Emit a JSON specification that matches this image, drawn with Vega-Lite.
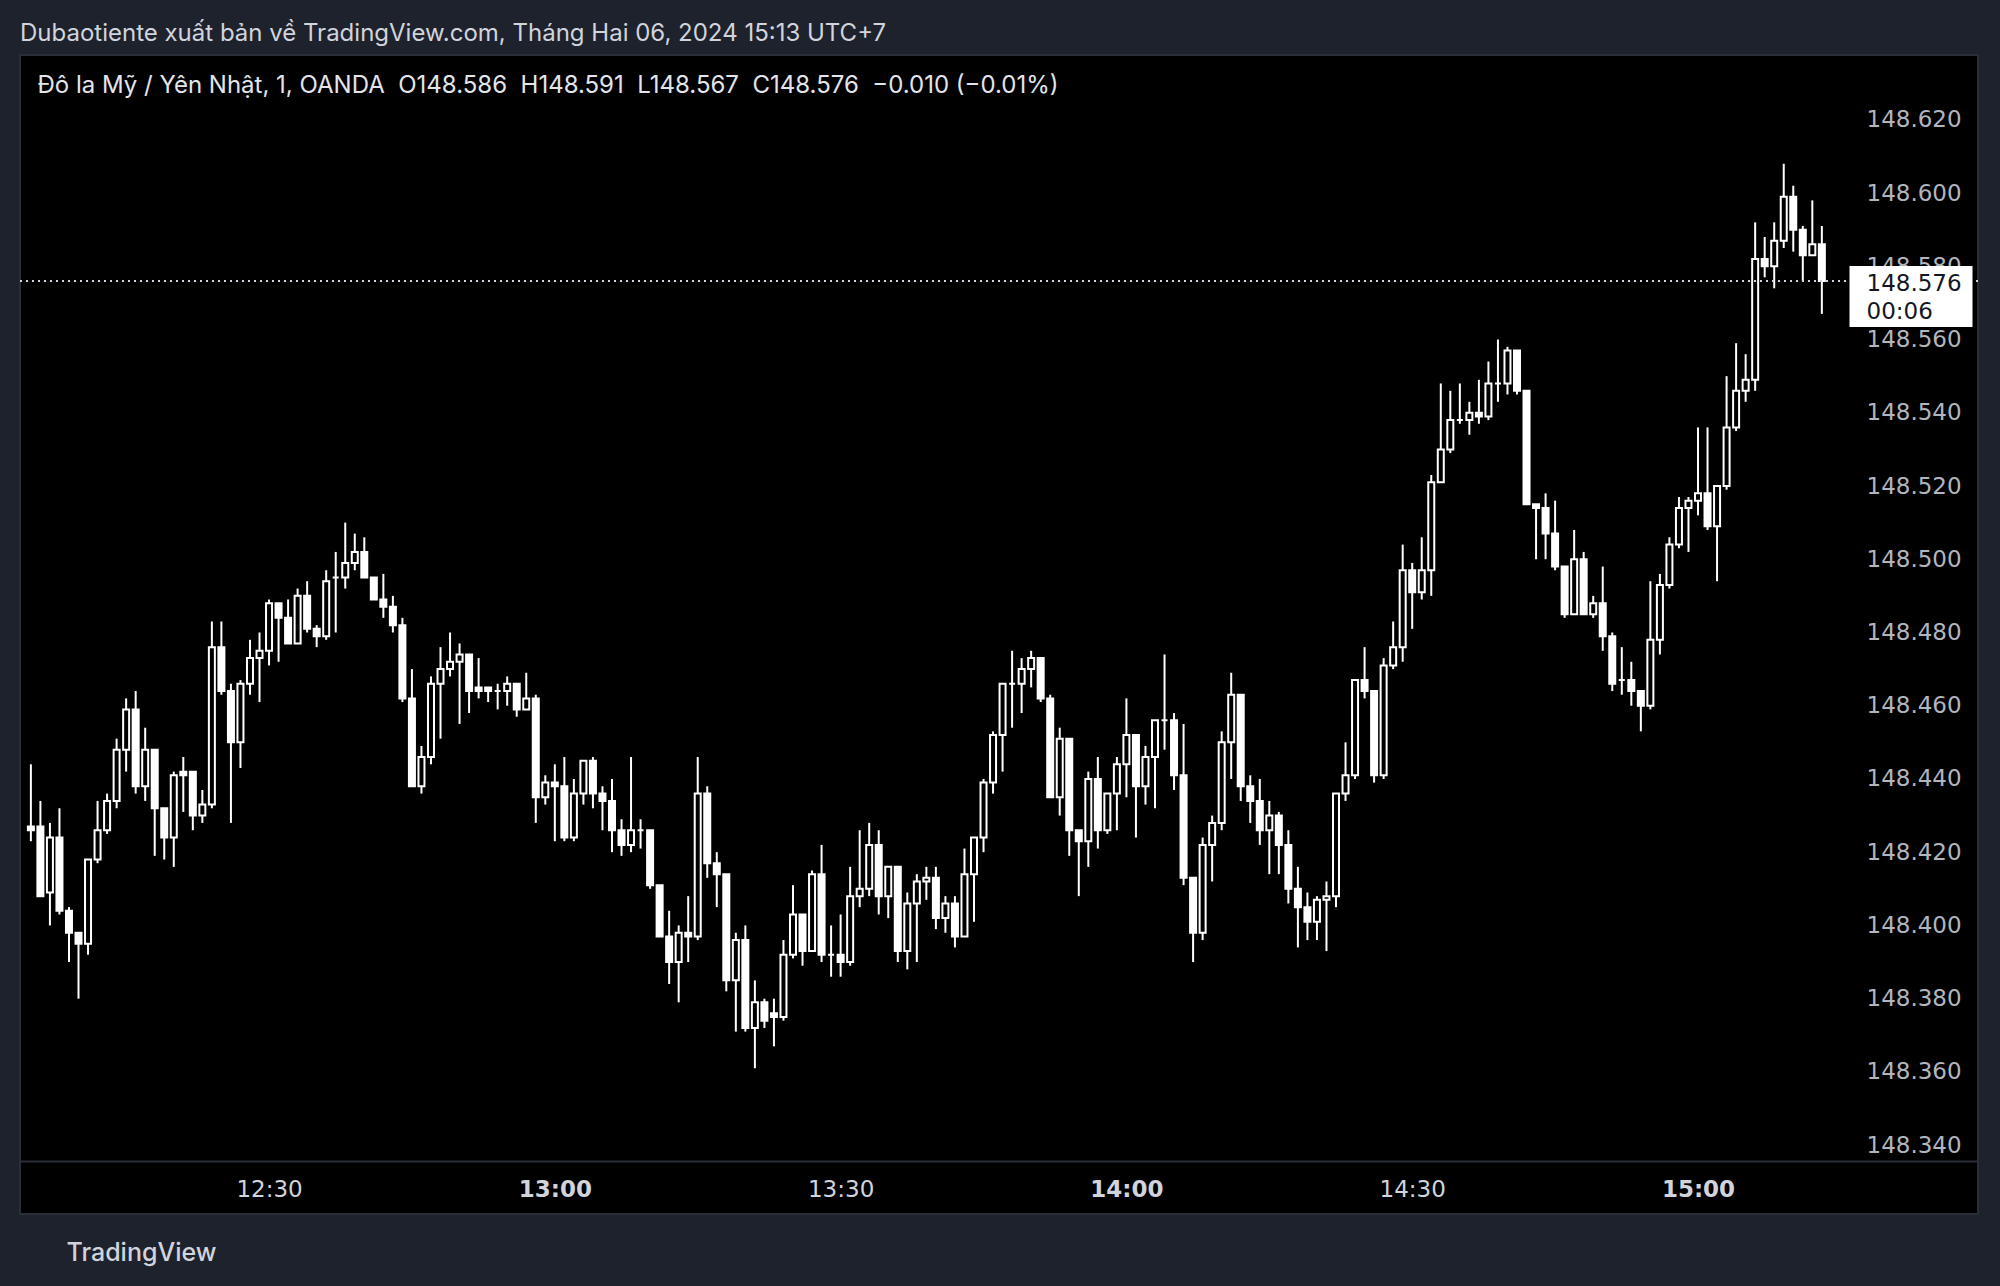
{
  "$schema": "https://vega.github.io/schema/vega-lite/v6.json",
  "background": "#1e222d",
  "autosize": {"type": "none"},
  "padding": {"left": 20, "top": 55, "right": 22, "bottom": 72},
  "width": 1958,
  "height": 1159,
  "title": {
    "text": "Dubaotiente xuất bản về TradingView.com, Tháng Hai 06, 2024 15:13 UTC+7",
    "anchor": "start",
    "frame": "group",
    "offset": 9,
    "font": "Inter",
    "fontSize": 24,
    "fontWeight": "normal",
    "color": "#d1d4dc"
  },
  "config": {
    "font": "Inter",
    "view": {"fill": "#000000", "stroke": "#2a2e39", "strokeWidth": 2}
  },
  "datasets": {
    "candles": [
      {"t":"12:05","o":148.427,"h":148.444,"l":148.423,"c":148.426},
      {"t":"12:06","o":148.427,"h":148.434,"l":148.408,"c":148.408},
      {"t":"12:07","o":148.409,"h":148.428,"l":148.400,"c":148.424},
      {"t":"12:08","o":148.424,"h":148.432,"l":148.403,"c":148.404},
      {"t":"12:09","o":148.404,"h":148.405,"l":148.390,"c":148.398},
      {"t":"12:10","o":148.398,"h":148.398,"l":148.380,"c":148.395},
      {"t":"12:11","o":148.395,"h":148.418,"l":148.392,"c":148.418},
      {"t":"12:12","o":148.418,"h":148.434,"l":148.417,"c":148.426},
      {"t":"12:13","o":148.426,"h":148.436,"l":148.425,"c":148.434},
      {"t":"12:14","o":148.434,"h":148.451,"l":148.432,"c":148.448},
      {"t":"12:15","o":148.448,"h":148.462,"l":148.442,"c":148.459},
      {"t":"12:16","o":148.459,"h":148.464,"l":148.436,"c":148.438},
      {"t":"12:17","o":148.438,"h":148.454,"l":148.434,"c":148.448},
      {"t":"12:18","o":148.448,"h":148.448,"l":148.419,"c":148.432},
      {"t":"12:19","o":148.432,"h":148.432,"l":148.418,"c":148.424},
      {"t":"12:20","o":148.424,"h":148.442,"l":148.416,"c":148.441},
      {"t":"12:21","o":148.442,"h":148.446,"l":148.431,"c":148.441},
      {"t":"12:22","o":148.442,"h":148.442,"l":148.426,"c":148.430},
      {"t":"12:23","o":148.430,"h":148.437,"l":148.428,"c":148.433},
      {"t":"12:24","o":148.433,"h":148.483,"l":148.432,"c":148.476},
      {"t":"12:25","o":148.476,"h":148.483,"l":148.463,"c":148.464},
      {"t":"12:26","o":148.464,"h":148.466,"l":148.428,"c":148.450},
      {"t":"12:27","o":148.450,"h":148.467,"l":148.443,"c":148.466},
      {"t":"12:28","o":148.466,"h":148.478,"l":148.463,"c":148.473},
      {"t":"12:29","o":148.473,"h":148.480,"l":148.461,"c":148.475},
      {"t":"12:30","o":148.475,"h":148.489,"l":148.471,"c":148.488},
      {"t":"12:31","o":148.488,"h":148.488,"l":148.472,"c":148.484},
      {"t":"12:32","o":148.484,"h":148.489,"l":148.477,"c":148.477},
      {"t":"12:33","o":148.477,"h":148.492,"l":148.477,"c":148.490},
      {"t":"12:34","o":148.490,"h":148.494,"l":148.480,"c":148.481},
      {"t":"12:35","o":148.481,"h":148.482,"l":148.476,"c":148.479},
      {"t":"12:36","o":148.479,"h":148.497,"l":148.478,"c":148.494},
      {"t":"12:37","o":148.495,"h":148.502,"l":148.480,"c":148.495},
      {"t":"12:38","o":148.495,"h":148.510,"l":148.492,"c":148.499},
      {"t":"12:39","o":148.499,"h":148.507,"l":148.497,"c":148.502},
      {"t":"12:40","o":148.502,"h":148.506,"l":148.495,"c":148.495},
      {"t":"12:41","o":148.495,"h":148.495,"l":148.489,"c":148.489},
      {"t":"12:42","o":148.489,"h":148.496,"l":148.484,"c":148.487},
      {"t":"12:43","o":148.487,"h":148.490,"l":148.480,"c":148.482},
      {"t":"12:44","o":148.482,"h":148.484,"l":148.461,"c":148.462},
      {"t":"12:45","o":148.462,"h":148.470,"l":148.438,"c":148.438},
      {"t":"12:46","o":148.438,"h":148.449,"l":148.436,"c":148.446},
      {"t":"12:47","o":148.446,"h":148.468,"l":148.444,"c":148.466},
      {"t":"12:48","o":148.466,"h":148.476,"l":148.451,"c":148.470},
      {"t":"12:49","o":148.470,"h":148.480,"l":148.468,"c":148.472},
      {"t":"12:50","o":148.472,"h":148.477,"l":148.455,"c":148.474},
      {"t":"12:51","o":148.474,"h":148.474,"l":148.458,"c":148.464},
      {"t":"12:52","o":148.465,"h":148.473,"l":148.462,"c":148.464},
      {"t":"12:53","o":148.465,"h":148.465,"l":148.461,"c":148.464},
      {"t":"12:54","o":148.464,"h":148.466,"l":148.459,"c":148.464},
      {"t":"12:55","o":148.464,"h":148.468,"l":148.460,"c":148.466},
      {"t":"12:56","o":148.466,"h":148.466,"l":148.457,"c":148.459},
      {"t":"12:57","o":148.459,"h":148.469,"l":148.459,"c":148.462},
      {"t":"12:58","o":148.462,"h":148.463,"l":148.428,"c":148.435},
      {"t":"12:59","o":148.435,"h":148.441,"l":148.433,"c":148.439},
      {"t":"13:00","o":148.439,"h":148.444,"l":148.423,"c":148.438},
      {"t":"13:01","o":148.438,"h":148.446,"l":148.423,"c":148.424},
      {"t":"13:02","o":148.424,"h":148.440,"l":148.423,"c":148.436},
      {"t":"13:03","o":148.436,"h":148.445,"l":148.433,"c":148.445},
      {"t":"13:04","o":148.445,"h":148.446,"l":148.432,"c":148.436},
      {"t":"13:05","o":148.436,"h":148.438,"l":148.426,"c":148.434},
      {"t":"13:06","o":148.434,"h":148.440,"l":148.420,"c":148.426},
      {"t":"13:07","o":148.426,"h":148.429,"l":148.419,"c":148.422},
      {"t":"13:08","o":148.422,"h":148.446,"l":148.420,"c":148.426},
      {"t":"13:09","o":148.426,"h":148.429,"l":148.421,"c":148.426},
      {"t":"13:10","o":148.426,"h":148.426,"l":148.410,"c":148.411},
      {"t":"13:11","o":148.411,"h":148.411,"l":148.397,"c":148.397},
      {"t":"13:12","o":148.397,"h":148.404,"l":148.384,"c":148.390},
      {"t":"13:13","o":148.390,"h":148.400,"l":148.379,"c":148.398},
      {"t":"13:14","o":148.398,"h":148.408,"l":148.390,"c":148.397},
      {"t":"13:15","o":148.397,"h":148.446,"l":148.396,"c":148.436},
      {"t":"13:16","o":148.436,"h":148.438,"l":148.413,"c":148.417},
      {"t":"13:17","o":148.417,"h":148.420,"l":148.405,"c":148.414},
      {"t":"13:18","o":148.414,"h":148.414,"l":148.382,"c":148.385},
      {"t":"13:19","o":148.385,"h":148.398,"l":148.371,"c":148.396},
      {"t":"13:20","o":148.396,"h":148.400,"l":148.371,"c":148.372},
      {"t":"13:21","o":148.372,"h":148.385,"l":148.361,"c":148.379},
      {"t":"13:22","o":148.379,"h":148.380,"l":148.372,"c":148.374},
      {"t":"13:23","o":148.376,"h":148.380,"l":148.367,"c":148.375},
      {"t":"13:24","o":148.375,"h":148.396,"l":148.374,"c":148.392},
      {"t":"13:25","o":148.392,"h":148.411,"l":148.391,"c":148.403},
      {"t":"13:26","o":148.403,"h":148.403,"l":148.389,"c":148.393},
      {"t":"13:27","o":148.393,"h":148.415,"l":148.393,"c":148.414},
      {"t":"13:28","o":148.414,"h":148.422,"l":148.390,"c":148.392},
      {"t":"13:29","o":148.392,"h":148.400,"l":148.386,"c":148.392},
      {"t":"13:30","o":148.392,"h":148.403,"l":148.386,"c":148.390},
      {"t":"13:31","o":148.390,"h":148.416,"l":148.389,"c":148.408},
      {"t":"13:32","o":148.408,"h":148.426,"l":148.405,"c":148.410},
      {"t":"13:33","o":148.410,"h":148.428,"l":148.408,"c":148.422},
      {"t":"13:34","o":148.422,"h":148.426,"l":148.403,"c":148.408},
      {"t":"13:35","o":148.408,"h":148.416,"l":148.402,"c":148.416},
      {"t":"13:36","o":148.416,"h":148.416,"l":148.390,"c":148.393},
      {"t":"13:37","o":148.393,"h":148.409,"l":148.388,"c":148.406},
      {"t":"13:38","o":148.406,"h":148.414,"l":148.390,"c":148.412},
      {"t":"13:39","o":148.412,"h":148.416,"l":148.407,"c":148.413},
      {"t":"13:40","o":148.413,"h":148.416,"l":148.399,"c":148.402},
      {"t":"13:41","o":148.402,"h":148.408,"l":148.398,"c":148.406},
      {"t":"13:42","o":148.406,"h":148.408,"l":148.394,"c":148.397},
      {"t":"13:43","o":148.397,"h":148.421,"l":148.397,"c":148.414},
      {"t":"13:44","o":148.414,"h":148.424,"l":148.401,"c":148.424},
      {"t":"13:45","o":148.424,"h":148.440,"l":148.420,"c":148.439},
      {"t":"13:46","o":148.439,"h":148.453,"l":148.436,"c":148.452},
      {"t":"13:47","o":148.452,"h":148.466,"l":148.442,"c":148.466},
      {"t":"13:48","o":148.466,"h":148.475,"l":148.454,"c":148.466},
      {"t":"13:49","o":148.466,"h":148.473,"l":148.458,"c":148.470},
      {"t":"13:50","o":148.470,"h":148.475,"l":148.465,"c":148.473},
      {"t":"13:51","o":148.473,"h":148.473,"l":148.461,"c":148.462},
      {"t":"13:52","o":148.462,"h":148.463,"l":148.435,"c":148.435},
      {"t":"13:53","o":148.435,"h":148.454,"l":148.430,"c":148.451},
      {"t":"13:54","o":148.451,"h":148.451,"l":148.419,"c":148.426},
      {"t":"13:55","o":148.426,"h":148.426,"l":148.408,"c":148.423},
      {"t":"13:56","o":148.423,"h":148.442,"l":148.416,"c":148.440},
      {"t":"13:57","o":148.440,"h":148.446,"l":148.421,"c":148.426},
      {"t":"13:58","o":148.426,"h":148.436,"l":148.425,"c":148.436},
      {"t":"13:59","o":148.436,"h":148.446,"l":148.426,"c":148.444},
      {"t":"14:00","o":148.444,"h":148.462,"l":148.435,"c":148.452},
      {"t":"14:01","o":148.452,"h":148.452,"l":148.424,"c":148.438},
      {"t":"14:02","o":148.438,"h":148.449,"l":148.433,"c":148.446},
      {"t":"14:03","o":148.446,"h":148.456,"l":148.432,"c":148.456},
      {"t":"14:04","o":148.456,"h":148.474,"l":148.448,"c":148.456},
      {"t":"14:05","o":148.456,"h":148.458,"l":148.437,"c":148.441},
      {"t":"14:06","o":148.441,"h":148.455,"l":148.411,"c":148.413},
      {"t":"14:07","o":148.413,"h":148.413,"l":148.390,"c":148.398},
      {"t":"14:08","o":148.398,"h":148.424,"l":148.396,"c":148.422},
      {"t":"14:09","o":148.422,"h":148.430,"l":148.412,"c":148.428},
      {"t":"14:10","o":148.428,"h":148.453,"l":148.426,"c":148.450},
      {"t":"14:11","o":148.450,"h":148.469,"l":148.440,"c":148.463},
      {"t":"14:12","o":148.463,"h":148.463,"l":148.434,"c":148.438},
      {"t":"14:13","o":148.438,"h":148.441,"l":148.428,"c":148.434},
      {"t":"14:14","o":148.434,"h":148.440,"l":148.422,"c":148.426},
      {"t":"14:15","o":148.426,"h":148.434,"l":148.414,"c":148.430},
      {"t":"14:16","o":148.430,"h":148.431,"l":148.414,"c":148.422},
      {"t":"14:17","o":148.422,"h":148.426,"l":148.406,"c":148.410},
      {"t":"14:18","o":148.410,"h":148.416,"l":148.394,"c":148.405},
      {"t":"14:19","o":148.405,"h":148.409,"l":148.396,"c":148.401},
      {"t":"14:20","o":148.401,"h":148.408,"l":148.396,"c":148.407},
      {"t":"14:21","o":148.407,"h":148.412,"l":148.393,"c":148.408},
      {"t":"14:22","o":148.408,"h":148.436,"l":148.405,"c":148.436},
      {"t":"14:23","o":148.436,"h":148.450,"l":148.434,"c":148.441},
      {"t":"14:24","o":148.441,"h":148.467,"l":148.440,"c":148.467},
      {"t":"14:25","o":148.467,"h":148.476,"l":148.462,"c":148.464},
      {"t":"14:26","o":148.464,"h":148.464,"l":148.439,"c":148.441},
      {"t":"14:27","o":148.441,"h":148.473,"l":148.440,"c":148.471},
      {"t":"14:28","o":148.471,"h":148.483,"l":148.470,"c":148.476},
      {"t":"14:29","o":148.476,"h":148.504,"l":148.472,"c":148.497},
      {"t":"14:30","o":148.497,"h":148.499,"l":148.481,"c":148.491},
      {"t":"14:31","o":148.491,"h":148.506,"l":148.489,"c":148.497},
      {"t":"14:32","o":148.497,"h":148.523,"l":148.490,"c":148.521},
      {"t":"14:33","o":148.521,"h":148.548,"l":148.521,"c":148.530},
      {"t":"14:34","o":148.530,"h":148.546,"l":148.529,"c":148.538},
      {"t":"14:35","o":148.538,"h":148.548,"l":148.537,"c":148.538},
      {"t":"14:36","o":148.538,"h":148.543,"l":148.534,"c":148.540},
      {"t":"14:37","o":148.540,"h":148.549,"l":148.537,"c":148.539},
      {"t":"14:38","o":148.539,"h":148.554,"l":148.538,"c":148.548},
      {"t":"14:39","o":148.548,"h":148.560,"l":148.543,"c":148.548},
      {"t":"14:40","o":148.548,"h":148.558,"l":148.545,"c":148.557},
      {"t":"14:41","o":148.557,"h":148.557,"l":148.545,"c":148.546},
      {"t":"14:42","o":148.546,"h":148.546,"l":148.515,"c":148.515},
      {"t":"14:43","o":148.515,"h":148.515,"l":148.500,"c":148.514},
      {"t":"14:44","o":148.514,"h":148.518,"l":148.500,"c":148.507},
      {"t":"14:45","o":148.507,"h":148.516,"l":148.497,"c":148.498},
      {"t":"14:46","o":148.498,"h":148.498,"l":148.484,"c":148.485},
      {"t":"14:47","o":148.485,"h":148.508,"l":148.485,"c":148.500},
      {"t":"14:48","o":148.500,"h":148.502,"l":148.485,"c":148.485},
      {"t":"14:49","o":148.485,"h":148.490,"l":148.484,"c":148.488},
      {"t":"14:50","o":148.488,"h":148.498,"l":148.475,"c":148.479},
      {"t":"14:51","o":148.479,"h":148.480,"l":148.464,"c":148.466},
      {"t":"14:52","o":148.467,"h":148.476,"l":148.463,"c":148.467},
      {"t":"14:53","o":148.467,"h":148.472,"l":148.460,"c":148.464},
      {"t":"14:54","o":148.464,"h":148.464,"l":148.453,"c":148.460},
      {"t":"14:55","o":148.460,"h":148.494,"l":148.459,"c":148.478},
      {"t":"14:56","o":148.478,"h":148.496,"l":148.474,"c":148.493},
      {"t":"14:57","o":148.493,"h":148.506,"l":148.492,"c":148.504},
      {"t":"14:58","o":148.504,"h":148.517,"l":148.503,"c":148.514},
      {"t":"14:59","o":148.514,"h":148.517,"l":148.502,"c":148.516},
      {"t":"15:00","o":148.516,"h":148.536,"l":148.512,"c":148.518},
      {"t":"15:01","o":148.518,"h":148.536,"l":148.508,"c":148.509},
      {"t":"15:02","o":148.509,"h":148.520,"l":148.494,"c":148.520},
      {"t":"15:03","o":148.520,"h":148.550,"l":148.519,"c":148.536},
      {"t":"15:04","o":148.536,"h":148.559,"l":148.535,"c":148.546},
      {"t":"15:05","o":148.546,"h":148.556,"l":148.543,"c":148.549},
      {"t":"15:06","o":148.549,"h":148.592,"l":148.546,"c":148.582},
      {"t":"15:07","o":148.582,"h":148.588,"l":148.577,"c":148.580},
      {"t":"15:08","o":148.580,"h":148.592,"l":148.574,"c":148.587},
      {"t":"15:09","o":148.587,"h":148.608,"l":148.585,"c":148.599},
      {"t":"15:10","o":148.599,"h":148.602,"l":148.584,"c":148.590},
      {"t":"15:11","o":148.590,"h":148.591,"l":148.576,"c":148.583},
      {"t":"15:12","o":148.583,"h":148.598,"l":148.583,"c":148.586},
      {"t":"15:13","o":148.586,"h":148.591,"l":148.567,"c":148.576}
    ],
    "last": [{"price": 148.576}]
  },
  "layer": [
    {
      "data": {"name": "candles", "format": {"parse": {"t": "date:'%H:%M'"}}},
      "encoding": {
        "x": {
          "field": "t",
          "type": "temporal",
          "scale": {
            "domain": [
              {"year": 1900, "month": 1, "date": 1, "hours": 12, "minutes": 4, "seconds": 23},
              {"year": 1900, "month": 1, "date": 1, "hours": 15, "minutes": 28, "seconds": 52}
            ]
          },
          "axis": {
            "orient": "bottom",
            "offset": -53,
            "values": [
              {"year": 1900, "month": 1, "date": 1, "hours": 12, "minutes": 30},
              {"year": 1900, "month": 1, "date": 1, "hours": 13, "minutes": 0},
              {"year": 1900, "month": 1, "date": 1, "hours": 13, "minutes": 30},
              {"year": 1900, "month": 1, "date": 1, "hours": 14, "minutes": 0},
              {"year": 1900, "month": 1, "date": 1, "hours": 14, "minutes": 30},
              {"year": 1900, "month": 1, "date": 1, "hours": 15, "minutes": 0}
            ],
            "format": "%H:%M",
            "grid": false,
            "ticks": false,
            "domain": true,
            "domainColor": "#2a2e39",
            "domainWidth": 2,
            "labelPadding": 28,
            "labelBaseline": "middle",
            "labelFont": "DejaVu Sans",
            "labelFontSize": 23,
            "labelColor": "#d1d4dc",
            "labelFontWeight": {"expr": "minutes(datum.value) == 0 ? 'bold' : 'normal'"},
            "labelFlush": false,
            "labelOverlap": false,
            "title": "TradingView",
            "titleAnchor": "start",
            "titleAlign": "left",
            "titleBaseline": "middle",
            "titleX": 46,
            "titleY": 91,
            "titleFont": "Inter",
            "titleFontSize": 25,
            "titleFontWeight": 500,
            "titleColor": "#d1d4dc"
          }
        }
      },
      "layer": [
        {
          "mark": {"type": "rule", "color": "#ffffff", "strokeWidth": 2},
          "encoding": {
            "y": {
              "field": "l",
              "type": "quantitative",
              "scale": {"domain": [148.3212, 148.6377], "nice": false, "zero": false},
              "axis": {
                "orient": "right",
                "offset": -129,
                "values": [148.34, 148.36, 148.38, 148.40, 148.42, 148.44, 148.46, 148.48, 148.50, 148.52, 148.54, 148.56, 148.58, 148.60, 148.62],
                "format": ".3f",
                "title": null,
                "domain": false,
                "grid": false,
                "ticks": false,
                "labelPadding": 17,
                "labelAlign": "left",
                "labelBaseline": "middle",
                "labelFont": "DejaVu Sans",
                "labelFontSize": 23,
                "labelColor": "#b2b5be",
                "zindex": 1
              }
            },
            "y2": {"field": "h"}
          }
        },
        {
          "mark": {"type": "bar", "size": 6, "stroke": "#ffffff", "strokeWidth": 2, "orient": "vertical"},
          "encoding": {
            "y": {
              "field": "o",
              "type": "quantitative",
              "scale": {"domain": [148.3212, 148.6377], "nice": false, "zero": false},
              "axis": {
                "orient": "right",
                "offset": -129,
                "values": [148.34, 148.36, 148.38, 148.40, 148.42, 148.44, 148.46, 148.48, 148.50, 148.52, 148.54, 148.56, 148.58, 148.60, 148.62],
                "format": ".3f",
                "title": null,
                "domain": false,
                "grid": false,
                "ticks": false,
                "labelPadding": 17,
                "labelAlign": "left",
                "labelBaseline": "middle",
                "labelFont": "DejaVu Sans",
                "labelFontSize": 23,
                "labelColor": "#b2b5be",
                "zindex": 1
              }
            },
            "y2": {"field": "c"},
            "fill": {
              "condition": {"test": "datum.c > datum.o", "value": "#000000"},
              "value": "#ffffff"
            }
          }
        }
      ]
    },
    {
      "data": {"name": "last"},
      "mark": {"type": "rule", "color": "#d1d4dc", "strokeWidth": 2, "strokeDash": [2, 4]},
      "encoding": {
        "y": {
          "field": "price",
          "type": "quantitative",
          "scale": {"domain": [148.3212, 148.6377], "nice": false, "zero": false},
          "axis": {
            "orient": "right",
            "offset": -129,
            "values": [148.576],
            "labelExpr": "[format(datum.value, '.3f'), '00:06']",
            "domain": false,
            "grid": false,
            "ticks": true,
            "tickSize": 123,
            "tickWidth": 61,
            "tickColor": "#ffffff",
            "tickOffset": 15,
            "labelPadding": -106,
            "labelOffset": -12,
            "labelAlign": "left",
            "labelBaseline": "middle",
            "labelLineHeight": 28,
            "labelFont": "DejaVu Sans",
            "labelFontSize": 23,
            "labelColor": "#131722",
            "title": "Đô la Mỹ / Yên Nhật, 1, OANDA\u00a0 O148.586\u00a0 H148.591\u00a0 L148.567\u00a0 C148.576\u00a0 −0.010 (−0.01%)",
            "titleAngle": 0,
            "titleAlign": "left",
            "titleBaseline": "middle",
            "titleX": -1812,
            "titleY": 30,
            "titleFont": "Inter",
            "titleFontSize": 24,
            "titleFontWeight": "normal",
            "titleColor": "#e3e5ea",
            "zindex": 2
          }
        }
      }
    }
  ],
  "resolve": {"scale": {"y": "independent"}, "axis": {"y": "independent"}}
}
